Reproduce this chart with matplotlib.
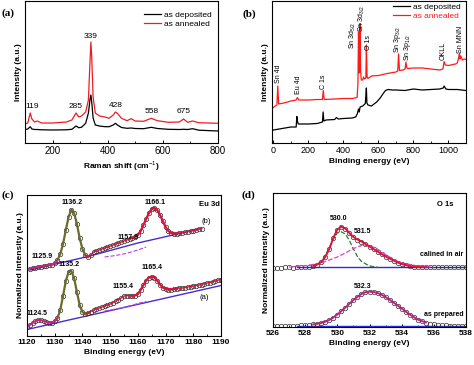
import matplotlib
matplotlib.use('Agg')
import matplotlib.pyplot as plt
from matplotlib.ticker import MultipleLocator

plt.rcParams['font.family'] = ['Liberation Sans', 'DejaVu Sans']
plt.rcParams['mathtext.fontset'] = 'custom'
plt.rcParams['mathtext.rm'] = 'Liberation Sans'

# (a) Raman spectra
raman_x   = [100, 110, 119, 125, 135, 145, 160, 200, 250, 270, 285, 295, 305, 320, 330, 336, 339, 342, 347, 355, 370, 390, 405, 420, 428, 435, 450, 470, 485, 500, 530, 558, 580, 620, 660, 675, 690, 708, 730, 800]
raman_ann = [19, 20, 30, 24, 21, 22, 20, 20, 21, 23, 30, 26, 27, 31, 43, 83, 101, 86, 46, 30, 27, 26, 24.7, 28, 31, 29.7, 24.7, 22.3, 24.3, 22, 21.7, 24.7, 22.3, 20.7, 21, 24, 20.7, 22, 20.3, 19.7]
raman_dep = [13.3, 14, 16.3, 14, 13.5, 13.5, 13.2, 13, 13.2, 13.7, 17, 15.3, 15.7, 19.7, 30, 44, 48, 41, 25, 18, 17, 16.3, 16.3, 18, 19.7, 18, 15.5, 14.7, 15, 14.5, 14.3, 15.7, 14.5, 13.7, 13.5, 13.7, 13.5, 14.3, 12.8, 12]
raman_peaks = [119, 285, 339, 428, 558, 675]
raman_peak_h = [36, 36, 106, 37, 31, 31]

# (b) XPS survey
surv_ann_x = [0, 10, 20, 25, 30, 60, 90, 100, 130, 137, 145, 200, 250, 280, 285, 290, 350, 400, 450, 478, 483, 486, 489, 492, 495, 498, 502, 510, 515, 520, 528, 531, 535, 540, 560, 600, 650, 700, 710, 715, 720, 740, 752, 757, 762, 770, 800, 850, 900, 950, 968, 975, 982, 1000, 1040, 1050, 1058, 1062, 1066, 1070, 1080, 1090, 1100]
surv_ann   = [35.5, 37, 38, 57, 39, 40, 41.5, 42, 43, 45.5, 43, 43, 43.5, 43.5, 52.5, 43.5, 44, 44.5, 44.5, 45.5, 60, 111, 70, 75, 119.5, 72, 63, 63, 66, 64, 65, 98, 66, 64.5, 67, 67.5, 69.5, 71, 72, 89, 72.5, 73, 74, 81, 75, 74.5, 75, 75, 74, 73, 74, 81.5, 78, 77.5, 79, 80, 85, 90, 84, 87, 83, 84, 83.5]
surv_dep_x = [0, 50, 100, 130, 134, 137, 142, 150, 200, 250, 280, 284, 288, 300, 350, 360, 370, 400, 450, 470, 480, 486, 490, 495, 510, 525, 529, 531, 534, 540, 560, 590, 610, 625, 640, 655, 680, 700, 750, 800, 850, 900, 950, 970, 975, 985, 1000, 1050, 1100]
surv_dep   = [13, 14.5, 16, 16, 26.5, 22, 19, 19, 19, 19.5, 21, 31, 22, 23, 23.5, 25.5, 24, 24.5, 25, 26, 29.5, 34, 31, 36, 37, 39.5, 50, 55, 40, 38, 37, 41, 45, 49, 52.5, 53.5, 53, 53, 52.5, 54, 53, 53.5, 54, 55, 57, 54, 53.5, 53.5, 52.5]
surv_labels = ['Sn 4d', 'Eu 4d', 'C 1s', 'Sn 3d$_{5/2}$', 'Sn 3d$_{3/2}$', 'O 1s', 'Sn 3p$_{3/2}$', 'Sn 3p$_{1/2}$', 'OKLL', 'Sn MNN']
surv_label_x = [27, 142, 284, 452, 503, 545, 708, 768, 971, 1068]
surv_label_h = [60, 49, 54, 94, 111, 93, 90, 82, 83, 90]

# (c) Eu 3d
eu_b_x = list(range(1121, 1184))
eu_b = [67.5, 68, 68.5, 69, 69.5, 70, 70.5, 71, 71.5, 73, 76, 82, 92, 106, 119, 126.5, 123, 112, 98, 87, 81, 79, 81, 84, 85, 86, 87, 88, 89, 90, 91, 92, 93, 94, 95, 96, 97, 98, 99.5, 101, 105, 111, 117, 123, 127, 128, 126, 121, 115, 109, 105, 103, 102.5, 102.5, 103, 103.5, 104, 104.5, 105, 105.5, 106, 107, 107.5]
eu_a_x = list(range(1120, 1191))
eu_a = [9, 11, 13, 15, 16, 16, 15, 14, 13.5, 13.5, 15, 18, 26, 40, 55, 64, 65, 58, 44, 31, 24, 22, 23, 24.5, 26, 27, 28, 29, 30, 31, 32, 33.5, 35, 36.5, 38, 40, 40.5, 40, 40, 40.5, 42, 46, 51, 55.5, 58.5, 59.5, 58.5, 55.5, 51.5, 48.5, 47, 46.5, 46.5, 47, 47.5, 48, 48, 48.5, 49, 49.5, 50, 50.5, 51, 51.5, 52.5, 53, 53.5, 54.5, 55, 56, 56.5]
eu_b_base_x = [1121, 1142, 1160, 1183]
eu_b_base = [66, 79.5, 93, 107.5]
eu_a_base_x = [1120, 1190]
eu_a_base = [6.5, 50.5]
eu_b_comp_x = [1148, 1152, 1156, 1160, 1163]
eu_b_comp = [79, 80.5, 82.7, 86, 89]
eu_a_comp_x = [1148, 1152, 1156, 1160, 1163]
eu_a_comp = [25, 27, 29.3, 32.5, 34.5]
eu_labels = ['1136.2', '1166.1', '1157.9', '1125.9', '1135.2', '1165.4', '1155.4', '1124.5']
eu_label_x = [1136.4, 1166.1, 1156.6, 1125.3, 1135.2, 1165.0, 1154.5, 1123.7]
eu_label_h = [133, 134, 98.7, 80, 71, 68.7, 49.3, 22.7]

# (d) O 1s
o_x = [526.0, 526.25, 526.5, 526.75, 527.0, 527.25, 527.5, 527.75, 528.0, 528.25, 528.5, 528.75, 529.0, 529.25, 529.5, 529.75, 530.0, 530.25, 530.5, 530.75, 531.0, 531.25, 531.5, 531.75, 532.0, 532.25, 532.5, 532.75, 533.0, 533.25, 533.5, 533.75, 534.0, 534.25, 534.5, 534.75, 535.0, 535.25, 535.5, 535.75, 536.0, 536.25, 536.5, 536.75, 537.0, 537.25, 537.5, 537.75, 538.0]
o_air = [59.3, 59.5, 59.4, 59.6, 59.7, 59.5, 59.7, 59.8, 60.0, 60.3, 61.0, 62.5, 65.0, 70.0, 78.0, 89.0, 97.5, 100.3, 98.5, 94.0, 90.0, 87.5, 85.5, 83.0, 80.5, 78.0, 75.5, 73.0, 70.5, 68.5, 66.5, 64.5, 63.0, 62.0, 61.0, 60.5, 60.0, 59.9, 59.8, 59.8, 59.7, 59.8, 59.7, 59.9, 59.7, 59.8, 59.7, 59.9, 59.7]
o_prep = [1.2, 1.4, 1.3, 1.3, 1.4, 1.5, 1.5, 1.7, 2.0, 2.2, 2.6, 3.2, 4.0, 5.3, 7.0, 9.5, 12.5, 16.0, 19.5, 23.3, 27.0, 30.2, 33.0, 34.8, 35.3, 35.0, 34.0, 32.3, 30.0, 27.3, 24.5, 21.5, 18.5, 15.5, 12.5, 10.0, 7.5, 6.0, 4.5, 3.5, 2.8, 2.3, 2.0, 1.7, 1.5, 1.5, 1.4, 1.3, 1.3]
o_green_x = [528.5, 529.0, 529.5, 529.75, 530.0, 530.2, 530.5, 530.75, 531.0, 531.25, 531.5, 532.0, 532.5]
o_green = [60.3, 65, 79, 88, 94, 95.5, 93, 86.5, 78, 70.5, 65.5, 61, 59.8]
o_mag_x = [527.0, 528.0, 529.0, 530.0, 530.5, 531.0, 531.5, 532.0, 532.5, 533.0, 533.5, 534.0, 535.0, 536.0]
o_mag = [59.8, 61.3, 64, 70, 74, 78.5, 81.5, 81.5, 78, 72.5, 67.5, 64, 61, 59.8]
o_base_x = [527.5, 538.0]
o_air_base = [59.7, 59.7]
o_prep_base = [1.3, 1.3]

W, H = 474, 365
fig = plt.figure(figsize=(W / 100, H / 100), dpi=100)


def box(l, t, r, b):
    return [l / W, (H - b) / H, (r - l) / W, (b - t) / H]


def style(ax, fs, bold):
    ax.tick_params(axis='x', which='both', direction='in', labelsize=fs, pad=2)
    ax.tick_params(axis='x', which='major', length=2.5, width=0.7)
    ax.tick_params(axis='x', which='minor', length=1.3, width=0.6)
    ax.set_yticks([])
    for s in ax.spines.values():
        s.set_linewidth(0.8)
    if bold:
        for t in ax.get_xticklabels():
            t.set_fontweight('bold')


lab = dict(fontsize=6, fontweight='bold', labelpad=2)
panel = dict(family='Liberation Serif', fontweight='bold', fontsize=8)

# ---- (a)
ax = fig.add_axes(box(25, 1, 218, 143))
ax.plot(raman_x, raman_dep, color='black', lw=0.9, label='as deposited')
ax.plot(raman_x, raman_ann, color='#ee1c25', lw=0.9, label='as annealed')
for p, h in zip(raman_peaks, raman_peak_h):
    ax.text(p + (8 if p == 119 else 0), h, str(p), fontsize=6, ha='center', va='center')
ax.set_xlim(100, 800)
ax.set_ylim(0, 142)
ax.xaxis.set_major_locator(MultipleLocator(200))
ax.xaxis.set_minor_locator(MultipleLocator(100))
style(ax, 7, False)
ax.set_xlabel('Raman shift (cm$^{-1}$)', **lab)
ax.set_ylabel('Intensity (a.u.)', **lab)
ax.legend(loc='upper right', bbox_to_anchor=(1.0, 0.97), frameon=False, fontsize=6,
          handlelength=2.0, handletextpad=0.4, labelspacing=0.15, borderaxespad=0.3)
fig.text(1 / W, 1 - 13 / H, '(a)', va='center', ha='left', **panel)

# ---- (b)
ax = fig.add_axes(box(272, 1, 466, 143))
ax.plot(surv_dep_x, surv_dep, color='black', lw=0.9, label='as deposited')
ax.plot(surv_ann_x, surv_ann, color='#ff1a1a', lw=0.9, label='as annealed')
for s, x, h in zip(surv_labels, surv_label_x, surv_label_h):
    ax.text(x, h, s, fontsize=5, rotation=90, ha='center', va='bottom')
ax.set_xlim(-8, 1100)
ax.set_ylim(0, 142)
ax.xaxis.set_major_locator(MultipleLocator(200))
ax.xaxis.set_minor_locator(MultipleLocator(100))
style(ax, 6.5, False)
ax.set_xlabel('Binding energy (eV)', **lab)
ax.set_ylabel('Intensity (a.u.)', **lab)
leg = ax.legend(loc='upper right', bbox_to_anchor=(1.0, 1.02), frameon=False, fontsize=6,
                handlelength=2.0, handletextpad=0.4, labelspacing=0.15, borderaxespad=0.2)
leg.get_texts()[1].set_color('#ff1a1a')
fig.text(243 / W, 1 - 14 / H, '(b)', va='center', ha='left', **panel)

# ---- (c)
ax = fig.add_axes(box(27, 195, 221, 336))
for xs, ys, bx, by, cx, cy in [(eu_b_x, eu_b, eu_b_base_x, eu_b_base, eu_b_comp_x, eu_b_comp),
                                (eu_a_x, eu_a, eu_a_base_x, eu_a_base, eu_a_comp_x, eu_a_comp)]:
    ax.plot(bx, by, color='#4a2bd0', lw=1.0)
    ax.plot(cx, cy, color='#c040e0', lw=0.8, ls='--')
    ax.plot(xs, ys, 'o', mfc='none', mec='#333333', mew=0.5, ms=3.2)
    i0 = xs.index(1130)
    i1 = xs.index(1142)
    ax.plot(xs[i0:i1 + 1], ys[i0:i1 + 1], color='#6b6b2a', lw=1.6)
    i0 = xs.index(1141)
    ax.plot(xs[i0:], ys[i0:], color='#e0103a', lw=1.0)
    i0 = xs.index(1158)
    i1 = xs.index(1174)
    ax.plot(xs[i0:i1 + 1], ys[i0:i1 + 1], color='#e0103a', lw=1.6)
    ax.plot(xs[:xs.index(1131) + 1], ys[:xs.index(1131) + 1], color='#d0207a', lw=1.4)
for s, x, h in zip(eu_labels, eu_label_x, eu_label_h):
    ax.text(x, h, s, fontsize=5, fontweight='bold', ha='center', va='center')
ax.text(1185.7, 132, 'Eu 3d', fontsize=5.5, fontweight='bold', ha='center', va='center')
ax.text(1184.7, 114.3, '(b)', fontsize=5.5, ha='center', va='center')
ax.text(1184.0, 38.7, '(a)', fontsize=5.5, ha='center', va='center')
ax.set_xlim(1120, 1190)
ax.set_ylim(0, 141)
ax.xaxis.set_major_locator(MultipleLocator(10))
ax.xaxis.set_minor_locator(MultipleLocator(5))
style(ax, 6, True)
ax.set_xlabel('Binding energy (eV)', **lab)
ax.set_ylabel('Normalized Intensity (a.u.)', **lab)
fig.text(1 / W, 1 - 195 / H, '(c)', va='center', ha='left', **panel)

# ---- (d)
ax = fig.add_axes(box(273, 193, 466, 327))
ax.plot(o_base_x, o_air_base, color='#2a2ae0', lw=1.0)
ax.plot(o_base_x, o_prep_base, color='#2a2ae0', lw=1.0)
ax.plot(o_x, o_air, 'o', mfc='none', mec='#333333', mew=0.5, ms=3.2)
ax.plot(o_x, o_prep, 'o', mfc='none', mec='#333333', mew=0.5, ms=3.2)
ax.plot(o_green_x, o_green, color='#2f7a2f', lw=0.9, ls='--')
ax.plot(o_mag_x, o_mag, color='#e040d0', lw=0.9, ls='--')
i0 = o_x.index(528.5)
i1 = o_x.index(535.5)
ax.plot(o_x[i0:i1 + 1], o_air[i0:i1 + 1], color='#e0103a', lw=1.4)
ax.plot(o_x[i0:i1 + 1], o_prep[i0:i1 + 1], color='#c02080', lw=1.4)
ax.text(530.1, 108.7, '530.0', fontsize=5, fontweight='bold', ha='center', va='center')
ax.text(531.6, 95.3, '531.5', fontsize=5, fontweight='bold', ha='center', va='center')
ax.text(531.6, 41, '532.3', fontsize=5, fontweight='bold', ha='center', va='center')
ax.text(536.5, 72, 'calined in air', fontsize=5, fontweight='bold', ha='center', va='center')
ax.text(536.6, 12, 'as prepared', fontsize=5, fontweight='bold', ha='center', va='center')
ax.text(536.7, 122, 'O 1s', fontsize=5.5, fontweight='bold', ha='center', va='center')
ax.set_xlim(526, 538)
ax.set_ylim(0, 134)
ax.xaxis.set_major_locator(MultipleLocator(2))
ax.xaxis.set_minor_locator(MultipleLocator(1))
style(ax, 6, True)
ax.set_xlabel('Binding energy (eV)', **lab)
ax.set_ylabel('Normalized Intensity (a.u.)', **lab)
fig.text(242 / W, 1 - 195 / H, '(d)', va='center', ha='left', **panel)

fig.savefig('out.png', dpi=100)
